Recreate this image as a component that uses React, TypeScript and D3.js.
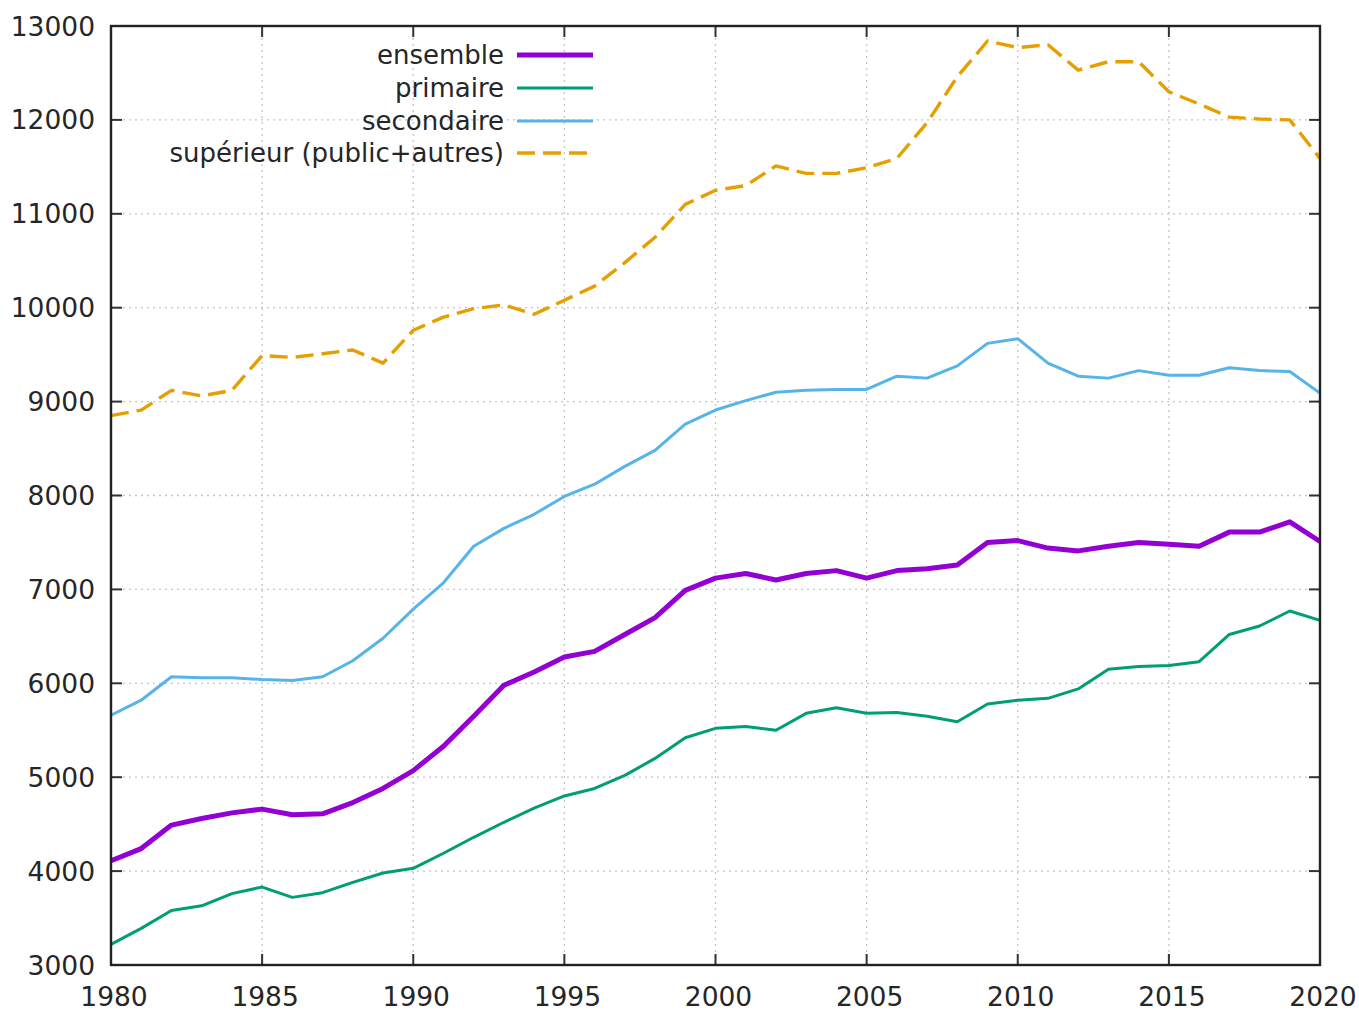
import React from "react";
import * as d3 from "d3";

const years: number[] = d3.range(1980, 2021);

const ensemble: number[] = [
  4110, 4240, 4490, 4560, 4620, 4660, 4600, 4610, 4730, 4880,
  5070, 5330, 5650, 5980, 6120, 6280, 6340, 6520, 6700, 6990,
  7120, 7170, 7100, 7170, 7200, 7120, 7200, 7220, 7260, 7500,
  7520, 7440, 7410, 7460, 7500, 7480, 7460, 7610, 7610, 7720,
  7510,
];

const primaire: number[] = [
  3220, 3390, 3580, 3630, 3760, 3830, 3720, 3770, 3880, 3980,
  4030, 4190, 4360, 4520, 4670, 4800, 4880, 5020, 5200, 5420,
  5520, 5540, 5500, 5680, 5740, 5680, 5690, 5650, 5590, 5780,
  5820, 5840, 5940, 6150, 6180, 6190, 6230, 6520, 6610, 6770,
  6670,
];

const secondaire: number[] = [
  5660, 5820, 6070, 6060, 6060, 6040, 6030, 6070, 6240, 6480,
  6790, 7070, 7460, 7650, 7800, 7990, 8120, 8310, 8480, 8760,
  8910, 9010, 9100, 9120, 9130, 9130, 9270, 9250, 9380, 9620,
  9670, 9410, 9270, 9250, 9330, 9280, 9280, 9360, 9330, 9320,
  9090,
];

const superieur: number[] = [
  8850, 8910, 9120, 9060, 9120, 9490, 9470, 9510, 9550, 9410,
  9760, 9900, 9990, 10030, 9930, 10080, 10230, 10480, 10750, 11100,
  11250, 11300, 11510, 11430, 11430, 11490, 11590, 11970, 12460, 12840,
  12770, 12800, 12530, 12620, 12620, 12300, 12170, 12030, 12010, 12000,
  11590,
];

const xTicks: number[] = [1980, 1985, 1990, 1995, 2000, 2005, 2010, 2015, 2020];
const yTicks: number[] = [3000, 4000, 5000, 6000, 7000, 8000, 9000, 10000, 11000, 12000, 13000];

const seriesNames: string[] = ["ensemble", "primaire", "secondaire", "supérieur (public+autres)"];

const W = 1359;
const H = 1011;
const L = 111;
const R = 1320;
const T = 26;
const B = 965;
const FONT = "'DejaVu Sans', sans-serif";

export default function App() {
  const x = d3.scaleLinear().domain([1980, 2020]).range([L, R]);
  const y = d3.scaleLinear().domain([3000, 13000]).range([B, T]);

  const series = [
    { name: seriesNames[0], values: ensemble, color: "#9400d3", width: 5, dash: undefined as string | undefined },
    { name: seriesNames[1], values: primaire, color: "#009e73", width: 3, dash: undefined },
    { name: seriesNames[2], values: secondaire, color: "#56b4e9", width: 3, dash: undefined },
    { name: seriesNames[3], values: superieur, color: "#e69f00", width: 3.4, dash: "18,8" },
  ];

  const line = d3
    .line<[number, number]>()
    .x((d) => x(d[0]))
    .y((d) => y(d[1]));

  const legendY = [55, 88, 121, 153];

  return (
    <svg
      width={W}
      height={H}
      style={{ position: "absolute", left: 0, top: 0, background: "#fff" }}
      fontFamily={FONT}
    >
      <rect x={0} y={0} width={W} height={H} fill="#fff" />
      {/* grid */}
      {xTicks.slice(1, -1).map((t) => (
        <line key={"gx" + t} x1={x(t)} x2={x(t)} y1={T} y2={B} stroke="#c4c4c4" strokeWidth={1.3} strokeDasharray="2,4" />
      ))}
      {yTicks.slice(1, -1).map((t) => (
        <line key={"gy" + t} x1={L} x2={R} y1={y(t)} y2={y(t)} stroke="#c4c4c4" strokeWidth={1.3} strokeDasharray="2,4" />
      ))}
      {/* ticks */}
      {xTicks.map((t) => (
        <g key={"tx" + t}>
          <line x1={x(t)} x2={x(t)} y1={B} y2={B - 11} stroke="#333" strokeWidth={2} />
          <line x1={x(t)} x2={x(t)} y1={T} y2={T + 11} stroke="#333" strokeWidth={2} />
          <text x={x(t) + 3} y={1006} textAnchor="middle" fontSize={26.5} fill="#262626">
            {t}
          </text>
        </g>
      ))}
      {yTicks.map((t) => (
        <g key={"ty" + t}>
          <line x1={L} x2={L + 11} y1={y(t)} y2={y(t)} stroke="#333" strokeWidth={2} />
          <line x1={R} x2={R - 11} y1={y(t)} y2={y(t)} stroke="#333" strokeWidth={2} />
          <text x={95} y={y(t) + 9.5} textAnchor="end" fontSize={26.5} fill="#262626">
            {t}
          </text>
        </g>
      ))}
      {/* series */}
      {series.map((s) => (
        <path
          key={s.name}
          d={line(years.map((yr, i) => [yr, s.values[i]] as [number, number])) || ""}
          fill="none"
          stroke={s.color}
          strokeWidth={s.width}
          strokeDasharray={s.dash}
          strokeLinejoin="round"
        />
      ))}
      {/* frame */}
      <rect x={L} y={T} width={R - L} height={B - T} fill="none" stroke="#222" strokeWidth={2.4} />
      {/* legend */}
      {series.map((s, i) => (
        <g key={"lg" + s.name}>
          <text x={504} y={legendY[i] + 9} textAnchor="end" fontSize={26} fill="#262626">
            {s.name}
          </text>
          <line x1={517} x2={593} y1={legendY[i]} y2={legendY[i]} stroke={s.color} strokeWidth={s.width} strokeDasharray={s.dash} />
        </g>
      ))}
    </svg>
  );
}
